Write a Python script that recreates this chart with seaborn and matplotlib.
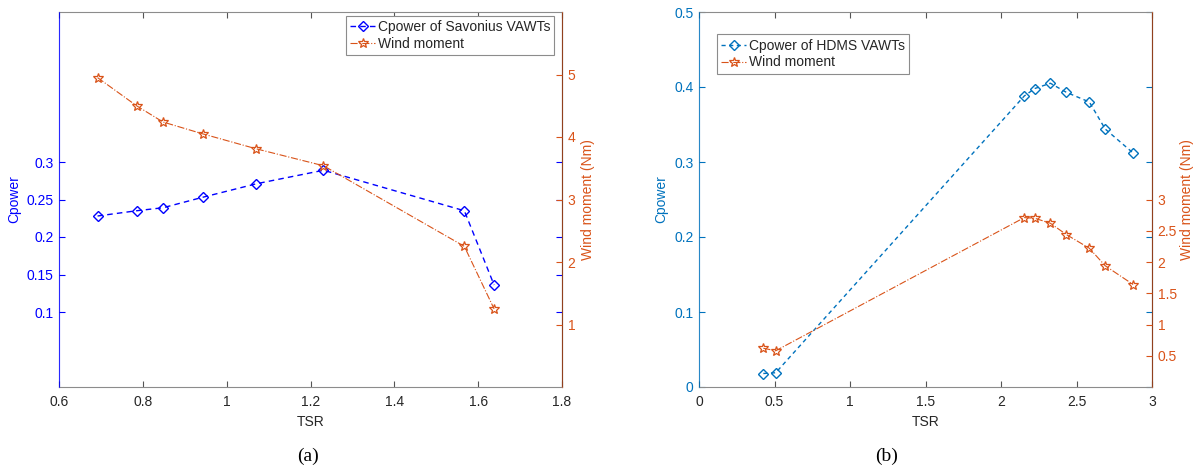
import numpy as np
import pandas as pd
import matplotlib
matplotlib.use("Agg")
import matplotlib.pyplot as plt
import seaborn as sns

# ---- data ----
tsr_a = [0.692, 0.785, 0.848, 0.943, 1.071, 1.231, 1.567, 1.638]
cpower_a = [0.228, 0.235, 0.239, 0.253, 0.271, 0.289, 0.235, 0.136]
moment_a = [4.95, 4.50, 4.24, 4.05, 3.81, 3.54, 2.25, 1.25]

tsr_b = [0.426, 0.508, 2.154, 2.224, 2.327, 2.432, 2.585, 2.690, 2.875]
cpower_b = [0.018, 0.019, 0.388, 0.398, 0.405, 0.393, 0.380, 0.344, 0.312]
moment_b = [0.62, 0.58, 2.71, 2.70, 2.62, 2.44, 2.22, 1.94, 1.64]

xticks_a = [0.6, 0.8, 1.0, 1.2, 1.4, 1.6, 1.8]
yticks_a_left = [0.1, 0.15, 0.2, 0.25, 0.3]
yticks_a_right = [1, 2, 3, 4, 5]
xticks_b = [0, 0.5, 1, 1.5, 2, 2.5, 3]
yticks_b_left = [0, 0.1, 0.2, 0.3, 0.4, 0.5]
yticks_b_right = [0.5, 1, 1.5, 2, 2.5, 3]

label_a = "Cpower of Savonius VAWTs"
label_b = "Cpower of HDMS VAWTs"
label_m = "Wind moment"

BLUE_A = "#0000FF"
BLUE_B = "#0072BD"
ORANGE = "#D95319"
AXC = "#262626"

sns.set_style("white")
plt.rcParams['font.family'] = ['Liberation Sans', 'DejaVu Sans']
plt.rcParams['font.size'] = 10

fig = plt.figure(figsize=(11.94, 4.70), dpi=100)
W, H = 1194, 470


def make_axes(x0, x1, y0=12, y1=387):
    return fig.add_axes([x0 / W, 1 - y1 / H, (x1 - x0) / W, (y1 - y0) / H])


def fmt(v):
    return "%g" % v


def panel(ax, tsr, cp, mom, cpcolor, cplabel, xlim, xticks, ytl, ytr, legloc, legbb, dashes, rpad):
    df1 = pd.DataFrame({"TSR": tsr, "C": cp})
    df2 = pd.DataFrame({"TSR": tsr, "M": mom})
    sns.lineplot(data=df1, x="TSR", y="C", ax=ax, color=cpcolor, sort=False,
                 marker="D", markersize=5.5, markerfacecolor="none",
                 markeredgecolor=cpcolor, markeredgewidth=1.0,
                 linewidth=1.0, dashes=False, label=cplabel)
    ax.lines[-1].set_dashes(dashes)
    ax2 = ax.twinx()
    sns.lineplot(data=df2, x="TSR", y="M", ax=ax2, color=ORANGE, sort=False,
                 marker="*", markersize=7, markerfacecolor="none",
                 markeredgecolor=ORANGE, markeredgewidth=0.9,
                 linewidth=0.8, label=label_m)
    ax2.lines[-1].set_linestyle("-.")

    ax.set_xlim(*xlim)
    ax.set_ylim(0, 0.5)
    ax2.set_ylim(0, 6)
    ax.set_xticks(xticks)
    ax.set_xticklabels([fmt(v) for v in xticks], color=AXC)
    ax.set_yticks(ytl)
    ax.set_yticklabels([fmt(v) for v in ytl], color=cpcolor)
    ax2.set_yticks(ytr)
    ax2.set_yticklabels([fmt(v) for v in ytr], color=ORANGE)

    ax.tick_params(axis="x", direction="in", top=True, bottom=True, length=4,
                   color="#555555", labelsize=10, pad=6)
    ax.tick_params(axis="y", direction="in", left=True, right=True, length=4,
                   color=cpcolor, labelsize=10, pad=4)
    ax2.tick_params(axis="y", direction="in", right=True, left=False, length=4,
                    color=ORANGE, labelsize=10, pad=4)

    ax.set_xlabel("TSR", color=AXC, fontsize=10, labelpad=4)
    ax.set_ylabel("Cpower", color=cpcolor, fontsize=10, labelpad=4)
    ax2.set_ylabel("Wind moment (Nm)", color=ORANGE, fontsize=10, labelpad=rpad)

    for s in ["top", "bottom"]:
        ax.spines[s].set_color("#8c8c8c")
        ax.spines[s].set_linewidth(0.8)
    ax.spines["left"].set_color(cpcolor)
    ax2.spines["left"].set_color(cpcolor)
    ax2.spines["right"].set_color(ORANGE)
    for s in ax2.spines.values():
        s.set_linewidth(0.8)
    ax2.spines["top"].set_visible(False)
    ax2.spines["bottom"].set_visible(False)
    ax2.spines["left"].set_alpha(0.6)
    ax2.spines["right"].set_alpha(0.6)
    ax.spines["left"].set_alpha(0.6)

    h1, l1 = ax.get_legend_handles_labels()
    h2, l2 = ax2.get_legend_handles_labels()
    if ax.get_legend():
        ax.get_legend().remove()
    if ax2.get_legend():
        ax2.get_legend().remove()
    leg = ax2.legend(h1 + h2, l1 + l2, loc=legloc, bbox_to_anchor=legbb,
                     borderaxespad=0, fontsize=10, frameon=True, fancybox=False,
                     edgecolor="#8c8c8c", framealpha=1, handlelength=1.8,
                     handletextpad=0.2, labelspacing=0.2, borderpad=0.3)
    leg.get_frame().set_linewidth(0.8)
    return ax2


ax_a = make_axes(59, 562)
panel(ax_a, tsr_a, cpower_a, moment_a, BLUE_A, label_a, (0.6, 1.8), xticks_a,
      yticks_a_left, yticks_a_right, "upper right", (0.985, 0.99), (4, 3), 4)

ax_b = make_axes(699, 1152)
panel(ax_b, tsr_b, cpower_b, moment_b, BLUE_B, label_b, (0, 3), xticks_b,
      yticks_b_left, yticks_b_right, "upper left", (0.04, 0.94), (3, 2.5), 2)

fig.text(308 / W, 1 - 456 / H, "(a)", ha="center", va="center",
         family=["Liberation Serif", "DejaVu Serif"], fontsize=14, color="black")
fig.text(887 / W, 1 - 456 / H, "(b)", ha="center", va="center",
         family=["Liberation Serif", "DejaVu Serif"], fontsize=14, color="black")

fig.savefig("out.png", dpi=100, facecolor="white")
